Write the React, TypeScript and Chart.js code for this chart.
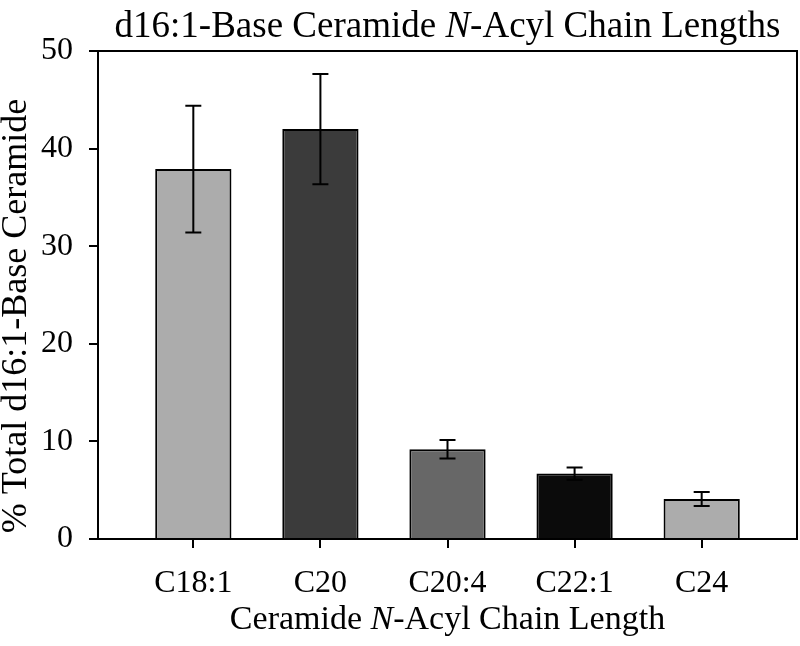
import React, { useEffect, useRef } from "react";
import { Chart, registerables } from "chart.js";

Chart.register(...registerables);

const categories = ["C18:1", "C20", "C20:4", "C22:1", "C24"];
const values = [37.9, 42.0, 9.2, 6.7, 4.1];
const errors = [6.5, 5.65, 0.95, 0.63, 0.72];
const barColors = ["#acacac", "#3b3b3b", "#676767", "#0b0b0b", "#acacac"];
const yTickValues = [0, 10, 20, 30, 40, 50];

const titleParts: [string, boolean][] = [["d16:1-Base Ceramide ", false], ["N", true], ["-Acyl Chain Lengths", false]];
const xTitleParts: [string, boolean][] = [["Ceramide ", false], ["N", true], ["-Acyl Chain Length", false]];
const yTitleText = "% Total d16:1-Base Ceramide";

const FONT = '"Liberation Serif", "Times New Roman", serif';

function drawMixed(ctx: CanvasRenderingContext2D, parts: [string, boolean][], cx: number, y: number, size: number) {
  const widths = parts.map(([t, it]) => {
    ctx.font = `${it ? "italic " : ""}${size}px ${FONT}`;
    return ctx.measureText(t).width;
  });
  const total = widths.reduce((a, b) => a + b, 0);
  let x = cx - total / 2;
  ctx.textAlign = "left";
  ctx.textBaseline = "alphabetic";
  parts.forEach(([t, it], i) => {
    ctx.font = `${it ? "italic " : ""}${size}px ${FONT}`;
    ctx.fillText(t, x, y);
    x += widths[i];
  });
}

const decorPlugin = {
  id: "decor",
  afterDatasetsDraw(chart: any) {
    const ctx = chart.ctx as CanvasRenderingContext2D;
    const xs = chart.scales.x;
    const ys = chart.scales.y;
    ctx.save();
    ctx.strokeStyle = "#000";
    ctx.lineWidth = 2;
    values.forEach((v, i) => {
      const x = xs.getPixelForValue(i);
      const yt = ys.getPixelForValue(v + errors[i]);
      const yb = ys.getPixelForValue(v - errors[i]);
      const cap = 8;
      ctx.beginPath();
      ctx.moveTo(x, yt);
      ctx.lineTo(x, yb);
      ctx.moveTo(x - cap, yt);
      ctx.lineTo(x + cap, yt);
      ctx.moveTo(x - cap, yb);
      ctx.lineTo(x + cap, yb);
      ctx.stroke();
    });
    ctx.restore();
  },
  afterDraw(chart: any) {
    const ctx = chart.ctx as CanvasRenderingContext2D;
    const a = chart.chartArea;
    ctx.save();
    ctx.strokeStyle = "#000";
    ctx.lineWidth = 2;
    ctx.beginPath();
    ctx.moveTo(a.left, a.top);
    ctx.lineTo(a.right, a.top);
    ctx.lineTo(a.right, a.bottom);
    ctx.stroke();
    ctx.fillStyle = "#000";
    const cx = (a.left + a.right) / 2;
    drawMixed(ctx, titleParts, cx, 37, 37);
    drawMixed(ctx, xTitleParts, cx, 629, 34);
    ctx.translate(26, 316);
    ctx.rotate(-Math.PI / 2);
    ctx.font = `36px ${FONT}`;
    ctx.textAlign = "center";
    ctx.textBaseline = "alphabetic";
    ctx.fillText(yTitleText, 0, 0);
    ctx.restore();
  },
};

export default function App() {
  const ref = useRef<HTMLCanvasElement | null>(null);
  useEffect(() => {
    if (!ref.current) return;
    const chart = new Chart(ref.current, {
      type: "bar",
      data: {
        datasets: [
          {
            data: values.map((v, i) => ({ x: i, y: v })),
            backgroundColor: barColors,
            borderColor: "#000",
            borderWidth: 2,
            barPercentage: 0.6,
            categoryPercentage: 1,
          } as any,
        ],
      },
      options: {
        animation: false,
        responsive: true,
        maintainAspectRatio: false,
        layout: { padding: { top: 51, left: 0, right: 3, bottom: 0 } },
        plugins: { legend: { display: false }, tooltip: { enabled: false }, title: { display: false } },
        scales: {
          x: {
            type: "linear",
            offset: false,
            min: -0.75,
            max: 4.75,
            afterBuildTicks: (s: any) => {
              s.ticks = categories.map((_, i) => ({ value: i }));
            },
            afterFit: (s: any) => {
              s.height = 107;
            },
            ticks: {
              callback: (v: any) => categories[v as number] ?? "",
              font: { family: FONT, size: 32 },
              color: "#000",
              padding: 16,
              maxRotation: 0,
              autoSkip: false,
            },
            grid: { display: true, offset: false, drawOnChartArea: false, drawTicks: true, tickLength: 9, color: "#000", lineWidth: 2 },
            border: { display: true, color: "#000", width: 2 },
          },
          y: {
            min: 0,
            max: 50,
            afterBuildTicks: (s: any) => {
              s.ticks = yTickValues.map((v) => ({ value: v }));
            },
            afterFit: (s: any) => {
              s.width = 98;
            },
            ticks: {
              font: { family: FONT, size: 32 },
              color: "#000",
              padding: 16,
            },
            grid: { display: true, drawOnChartArea: false, drawTicks: true, tickLength: 9, color: "#000", lineWidth: 2 },
            border: { display: true, color: "#000", width: 2 },
          },
        },
      },
      plugins: [decorPlugin],
    });
    return () => chart.destroy();
  }, []);
  return (
    <div style={{ position: "absolute", left: 0, top: 0, width: 800, height: 646, background: "#fff" }}>
      <canvas ref={ref} />
    </div>
  );
}
